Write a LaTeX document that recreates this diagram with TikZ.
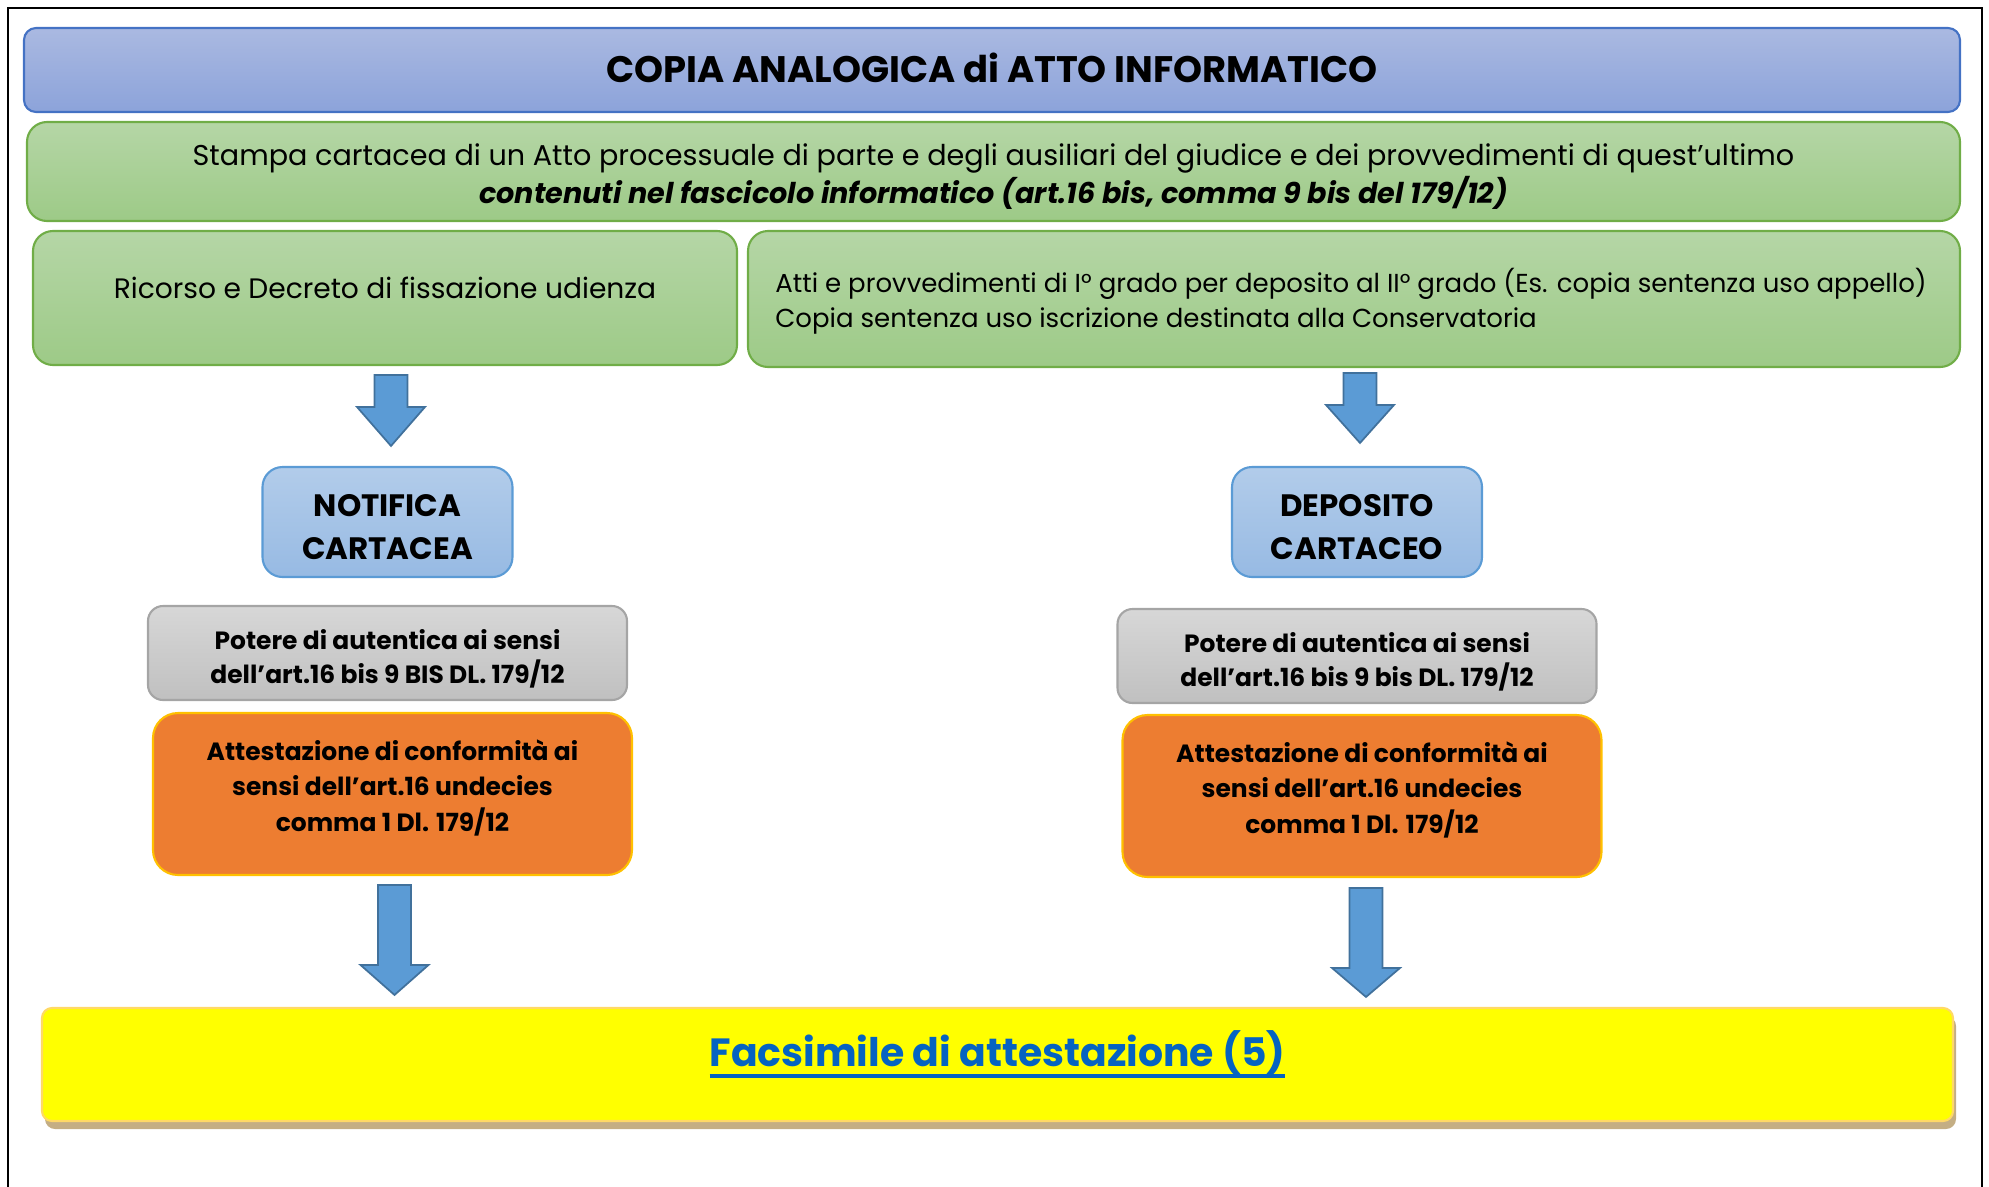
\documentclass[tikz,border=0pt]{standalone}
\usepackage{fontspec}
\setmainfont{Poppins}
\usetikzlibrary{positioning,calc,shadows}

\definecolor{titletop}{HTML}{AAB9E1}
\definecolor{titlebot}{HTML}{8CA3DA}
\definecolor{titleline}{HTML}{4472C4}
\definecolor{greentop}{HTML}{B5D6A6}
\definecolor{greenbot}{HTML}{9DCA87}
\definecolor{greenline}{HTML}{70AD47}
\definecolor{bluetop}{HTML}{B2CCEA}
\definecolor{bluebot}{HTML}{97BAE3}
\definecolor{blueline}{HTML}{5B9BD5}
\definecolor{greytop}{HTML}{D7D7D7}
\definecolor{greybot}{HTML}{C0C0C0}
\definecolor{greyline}{HTML}{A5A5A5}
\definecolor{orangefill}{HTML}{ED7D31}
\definecolor{goldline}{HTML}{FFC000}
\definecolor{yellowfill}{HTML}{FFFF00}
\definecolor{yellowline}{HTML}{FFD966}
\definecolor{shadowtan}{HTML}{C4AE84}
\definecolor{linkblue}{HTML}{0563C1}
\definecolor{arrowfill}{HTML}{5B9BD5}
\definecolor{arrowline}{HTML}{41719C}

\tikzset{
  box/.style={draw, line width=0.6pt, inner sep=0pt, align=center},
  titlebox/.style={box, top color=titletop, bottom color=titlebot, draw=titleline,
    rounded corners=0.12cm, font=\fontsize{10.5}{12}\selectfont\bfseries},
  greenbox/.style={box, top color=greentop, bottom color=greenbot, draw=greenline,
    rounded corners=0.2cm},
  bluebox/.style={box, top color=bluetop, bottom color=bluebot, draw=blueline,
    rounded corners=0.2cm, minimum width=2.5cm, minimum height=1.1cm},
  bluetxt/.style={align=center, font=\fontsize{8.8}{12}\selectfont\bfseries},
  greybox/.style={box, top color=greytop, bottom color=greybot, draw=greyline,
    rounded corners=0.15cm, minimum width=4.79cm, minimum height=0.94cm},
  greytxt/.style={align=center, font=\fontsize{7.1}{9.7}\selectfont\bfseries},
  orangebox/.style={box, fill=orangefill, draw=goldline, rounded corners=0.25cm,
    minimum width=4.79cm, minimum height=1.62cm},
  orangetxt/.style={align=center, font=\fontsize{7.1}{10.1}\selectfont\bfseries},
  yellowbox/.style={box, fill=yellowfill, draw=yellowline, rounded corners=0.1cm,
    drop shadow={shadow xshift=0.03cm, shadow yshift=-0.08cm, fill=shadowtan, opacity=1}},
  bigarrow/.style={fill=arrowfill, draw=arrowline, line width=0.5pt}
}

% thick link underline
\newcommand{\linkul}[1]{\setbox0\hbox{#1}\rlap{\rule[-0.11cm]{\wd0}{1.2pt}}\box0}

% block arrow: #1 top, #2 tip level, #3 head length
\newcommand{\blockarrow}[3]{%
  \coordinate (bt) at (#1 |- #2);
  \filldraw[bigarrow] ($(#1)+(-0.165,0)$) -- ($(#1)+(0.165,0)$) -- ($(bt)+(0.165,#3)$)
    -- ($(bt)+(0.34,#3)$) -- (bt) -- ($(bt)+(-0.34,#3)$) -- ($(bt)+(-0.165,#3)$) -- cycle;
}

\begin{document}
\begin{tikzpicture}
  \useasboundingbox (0,0) rectangle (19.89,-11.86);

  % Frame
  \draw[line width=0.8pt] (0.08,-12) -- (0.08,-0.08) -- (19.82,-0.08) -- (19.82,-12);

  % Title and description
  \node[titlebox, minimum width=19.36cm, minimum height=0.84cm] (title) at (9.92,-0.70)
    {\raisebox{0.04cm}{COPIA ANALOGICA di ATTO INFORMATICO}};
  \node[greenbox, minimum width=19.33cm, minimum height=0.99cm] (stampa) at (9.935,-1.715) {};
  \node[align=center, font=\fontsize{8.15}{10.8}\selectfont] (stampa-t) at ($(stampa)+(0,-0.05)$)
    {Stampa cartacea di un Atto processuale di parte e degli ausiliari del giudice e dei provvedimenti di quest'ultimo\\
     \textbf{\textit{contenuti nel fascicolo informatico (art.16 bis, comma 9 bis del 179/12)}}};

  % Sources
  \node[greenbox, minimum width=7.04cm, minimum height=1.34cm] (recl) at (3.85,-2.98) {};
  \node[font=\fontsize{8}{10}\selectfont] (recl-t) at ($(recl)+(0,0.1)$)
    {Ricorso e Decreto di fissazione udienza};
  \node[greenbox, minimum width=12.12cm, minimum height=1.36cm] (recr) at (13.54,-2.99) {};
  \node[anchor=west, align=left, font=\fontsize{7.4}{10}\selectfont] (recr-t)
    at ($(recr.west)+(0.16,-0.025)$)
    {Atti e provvedimenti di I° grado per deposito al II° grado (Es. copia sentenza uso appello)\\
     Copia sentenza uso iscrizione destinata alla Conservatoria};

  % Left branch
  \node[bluebox] (notifica) at (3.875,-5.22) {};
  \node[bluetxt] (notifica-t) at ($(notifica)+(0,-0.05)$) {NOTIFICA\\CARTACEA};
  \node[greybox] (potl) at (3.875,-6.53) {};
  \node[greytxt] (potl-t) at ($(potl)+(0,-0.06)$)
    {Potere di autentica ai sensi\\dell’art.16 bis 9 BIS DL. 179/12};
  \node[orangebox] (attl) at (3.925,-7.94) {};
  \node[orangetxt] (attl-t) at ($(attl)+(0,0.065)$)
    {Attestazione di conformità ai\\sensi dell’art.16 undecies\\comma 1 Dl. 179/12};

  % Right branch
  \node[bluebox] (deposito) at (13.57,-5.22) {};
  \node[bluetxt] (deposito-t) at ($(deposito)+(0,-0.05)$) {DEPOSITO\\CARTACEO};
  \node[greybox] (potr) at (13.57,-6.56) {};
  \node[greytxt] (potr-t) at ($(potr)+(0,-0.06)$)
    {Potere di autentica ai sensi\\dell’art.16 bis 9 bis DL. 179/12};
  \node[orangebox] (attr) at (13.62,-7.96) {};
  \node[orangetxt] (attr-t) at ($(attr)+(0,0.065)$)
    {Attestazione di conformità ai\\sensi dell’art.16 undecies\\comma 1 Dl. 179/12};

  % Facsimile
  \node[yellowbox, minimum width=19.11cm, minimum height=1.13cm] (facs) at (9.975,-10.645) {};
  \node[font=\fontsize{11.2}{13}\selectfont\bfseries, text=linkblue] (facs-t) at ($(facs)+(0,0.1)$)
    {\linkul{Facsimile di attestazione (5)}};

  % Arrows
  \path ($(recl.south)+(0.06,-0.09)$) coordinate (a1s) ($(notifica.north)+(0,0.2)$) coordinate (a1e);
  \blockarrow{a1s}{a1e}{0.39}
  \path ($(recr.south -| deposito.north)+(0.03,-0.05)$) coordinate (a2s) ($(deposito.north)+(0,0.23)$) coordinate (a2e);
  \blockarrow{a2s}{a2e}{0.38}
  \path ($(attl.south)+(0.02,-0.09)$) coordinate (a3s) ($(facs.north)+(0,0.12)$) coordinate (a3e);
  \blockarrow{a3s}{a3e}{0.30}
  \path ($(attr.south)+(0.04,-0.10)$) coordinate (a4s) ($(facs.north)+(0,0.10)$) coordinate (a4e);
  \blockarrow{a4s}{a4e}{0.29}
\end{tikzpicture}
\end{document}
